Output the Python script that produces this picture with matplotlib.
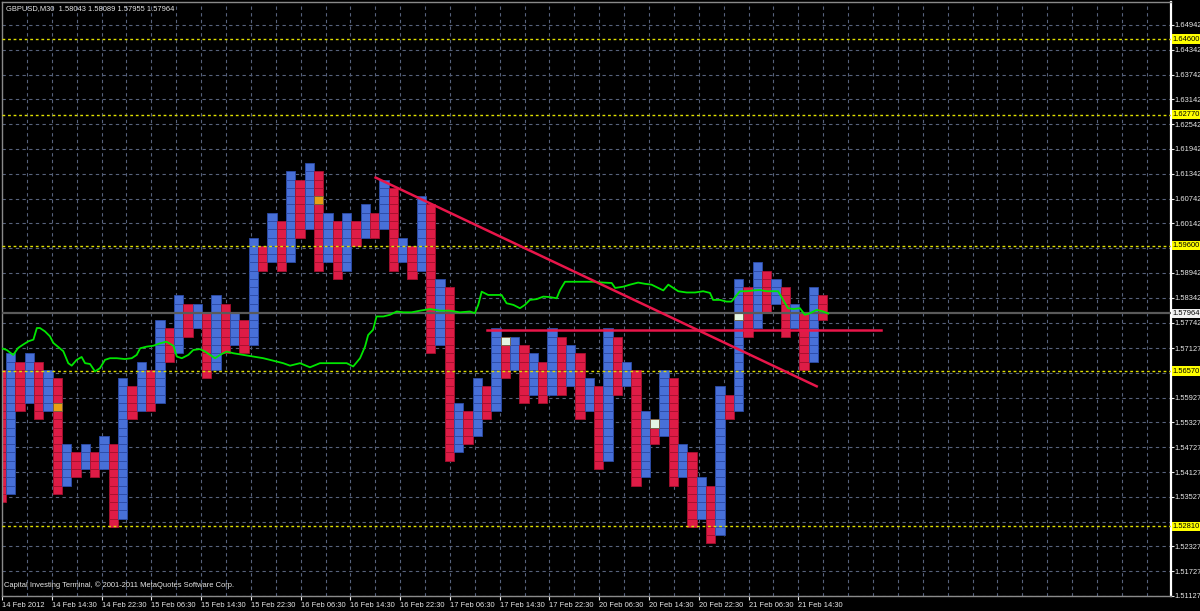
import matplotlib.pyplot as plt
import matplotlib.transforms as mtransforms

plt.rcParams['font.family'] = ['Liberation Sans', 'DejaVu Sans']

BOX = 0.0020  # box size of the columns

# point & figure columns (low / high), first one is red, then blue/red alternate
col_low = [1.5340, 1.5360, 1.5560, 1.5580, 1.5540, 1.5560, 1.5360, 1.5380, 1.5400, 1.5420,
           1.5400, 1.5420, 1.5280, 1.5300, 1.5540, 1.5560, 1.5560, 1.5580, 1.5680, 1.5700,
           1.5740, 1.5760, 1.5640, 1.5660, 1.5700, 1.5720, 1.5700, 1.5720, 1.5900, 1.5920,
           1.5900, 1.5920, 1.5980, 1.6000, 1.5900, 1.5920, 1.5880, 1.5900, 1.5960, 1.5980,
           1.5980, 1.6000, 1.5900, 1.5920, 1.5880, 1.5900, 1.5700, 1.5720, 1.5440, 1.5460,
           1.5480, 1.5500, 1.5540, 1.5560, 1.5640, 1.5660, 1.5580, 1.5600, 1.5580, 1.5600,
           1.5600, 1.5620, 1.5540, 1.5560, 1.5420, 1.5440, 1.5600, 1.5620, 1.5380, 1.5400,
           1.5480, 1.5500, 1.5380, 1.5400, 1.5280, 1.5300, 1.5240, 1.5260, 1.5540, 1.5560,
           1.5740, 1.5760, 1.5800, 1.5820, 1.5740, 1.5760, 1.5660, 1.5680, 1.5780]
col_high = [1.5660, 1.5700, 1.5680, 1.5700, 1.5680, 1.5660, 1.5640, 1.5480, 1.5460, 1.5480,
            1.5460, 1.5500, 1.5480, 1.5640, 1.5620, 1.5680, 1.5660, 1.5780, 1.5760, 1.5840,
            1.5820, 1.5820, 1.5800, 1.5840, 1.5820, 1.5800, 1.5780, 1.5980, 1.5960, 1.6040,
            1.6020, 1.6140, 1.6120, 1.6160, 1.6140, 1.6040, 1.6020, 1.6040, 1.6020, 1.6060,
            1.6040, 1.6120, 1.6100, 1.5980, 1.5960, 1.6080, 1.6060, 1.5880, 1.5860, 1.5580,
            1.5560, 1.5640, 1.5620, 1.5760, 1.5740, 1.5740, 1.5720, 1.5700, 1.5680, 1.5760,
            1.5740, 1.5720, 1.5700, 1.5640, 1.5620, 1.5760, 1.5740, 1.5680, 1.5660, 1.5560,
            1.5540, 1.5660, 1.5640, 1.5480, 1.5460, 1.5400, 1.5380, 1.5620, 1.5600, 1.5880,
            1.5860, 1.5920, 1.5900, 1.5880, 1.5860, 1.5820, 1.5800, 1.5860, 1.5840]

# highlighted boxes: (column number, box low, colour)
special = [(6, 1.5560, '#e8a214'), (34, 1.6060, '#e8a214'), (54, 1.5720, '#e4f6e4'),
           (70, 1.5520, '#e4f6e4'), (79, 1.5780, '#e4f6e4')]

# price line (M30 bar number, price)
line_bar = [-0.1, 1.5, 3.6, 5.2, 6.8, 8.5, 10.1, 11.2, 12.2, 13.8, 15.4, 16.5, 18.1, 19.7, 21.3,
            22.4, 24.0, 25.6, 26.7, 28.3, 29.9, 31.5, 33.1, 34.7, 36.9, 39.5, 41.7, 43.3, 44.4,
            46.5, 48.6, 50.8, 52.9, 55.1, 56.2, 57.8, 59.9, 61.5, 63.6, 65.3, 66.9, 68.5, 70.1,
            72.2, 74.4, 77.6, 80.8, 84.0, 87.2, 90.4, 92.6, 95.8, 99.0, 102.2, 104.4, 107.6,
            110.8, 112.9, 115.1, 116.7, 117.7, 119.3, 120.4, 122.6, 124.7, 126.9, 129.0, 131.7,
            134.4, 137.6, 140.8, 144.0, 147.2, 150.4, 152.0, 153.1, 154.2, 156.3, 159.0, 160.6,
            162.2, 164.4, 166.5, 168.1, 169.7, 171.9, 174.0, 176.1, 178.3, 179.4, 181.0, 183.6,
            186.9, 190.1, 193.3, 196.0, 197.1, 199.7, 201.9, 204.5, 206.7, 208.8, 211.0, 212.6,
            214.2, 215.8, 217.4, 220.1, 222.8, 225.4, 227.6, 228.6, 230.8, 232.9, 234.5, 236.2,
            237.2, 239.4, 241.5, 243.6, 245.8, 247.4, 249.5, 251.1, 252.7, 254.4, 256.5, 258.1,
            259.8, 261.9, 264.0, 265.6]
line_price = [1.5712, 1.5708, 1.5696, 1.5713, 1.5721, 1.5729, 1.5733, 1.5761, 1.5761, 1.5753,
              1.5741, 1.5725, 1.5715, 1.5705, 1.5676, 1.5670, 1.5684, 1.5691, 1.5676, 1.5674,
              1.5656, 1.5664, 1.5684, 1.5688, 1.5688, 1.5686, 1.5688, 1.5696, 1.5712, 1.5716,
              1.5718, 1.5724, 1.5728, 1.5718, 1.5692, 1.5688, 1.5696, 1.5708, 1.5710, 1.5704,
              1.5696, 1.5688, 1.5696, 1.5704, 1.5700, 1.5696, 1.5692, 1.5688, 1.5682, 1.5676,
              1.5670, 1.5676, 1.5666, 1.5676, 1.5676, 1.5676, 1.5676, 1.5668, 1.5688, 1.5716,
              1.5744, 1.5757, 1.5789, 1.5789, 1.5793, 1.5801, 1.5799, 1.5799, 1.5803, 1.5807,
              1.5803, 1.5803, 1.5799, 1.5801, 1.5797, 1.5817, 1.5849, 1.5841, 1.5841, 1.5841,
              1.5821, 1.5817, 1.5809, 1.5817, 1.5829, 1.5831, 1.5837, 1.5836, 1.5833, 1.5853,
              1.5873, 1.5873, 1.5873, 1.5873, 1.5871, 1.5870, 1.5858, 1.5861, 1.5866, 1.5871,
              1.5868, 1.5866, 1.5858, 1.5852, 1.5866, 1.5858, 1.5850, 1.5847, 1.5847, 1.5850,
              1.5846, 1.5829, 1.5829, 1.5825, 1.5825, 1.5841, 1.5850, 1.5850, 1.5852, 1.5853,
              1.5850, 1.5850, 1.5850, 1.5829, 1.5809, 1.5807, 1.5809, 1.5793, 1.5797, 1.5805,
              1.5801, 1.5796]

# trend lines drawn on the chart
trend_bar = [120.1, 261.9]
trend_price = [1.6125, 1.5620]
hline_bar = [155.9, 282.5]
hline_price = 1.5757

levels = [1.64600, 1.62770, 1.59600, 1.56570, 1.52810]
bid = 1.57964

# price grid; the ones under the yellow level labels carry no label of their own
y_grid = [1.64942, 1.64342, 1.63742, 1.63142, 1.62542, 1.61942, 1.61342, 1.60742, 1.60142,
          1.59542, 1.58942, 1.58342, 1.57742, 1.57127, 1.56527, 1.55927, 1.55327, 1.54727,
          1.54127, 1.53527, 1.52927, 1.52327, 1.51727, 1.51127]
y_hidden = [1.59542, 1.56527, 1.52927]
x_labels = ['14 Feb 2012', '14 Feb 14:30', '14 Feb 22:30', '15 Feb 06:30', '15 Feb 14:30',
            '15 Feb 22:30', '16 Feb 06:30', '16 Feb 14:30', '16 Feb 22:30', '17 Feb 06:30',
            '17 Feb 14:30', '17 Feb 22:30', '20 Feb 06:30', '20 Feb 14:30', '20 Feb 22:30',
            '21 Feb 06:30', '21 Feb 14:30']

BLUE, BLUE_E = '#4870d8', '#2c4ca8'
RED, RED_E = '#de1c46', '#a8102e'
GRID = '#57627c'
TXT = '#e8e8e8'
FS = 5.4

fig = plt.figure(figsize=(12, 6.11), dpi=100, facecolor='black')
ax = fig.add_axes([2 / 1200, 15 / 611, 1169 / 1200, 594 / 611], facecolor='black')

# grid
for v in y_grid:
    ax.axhline(v, color=GRID, lw=0.8, ls=(0, (3, 3)), zorder=0)
for b in range(8, 376, 8):
    ax.axvline(b, color=GRID, lw=0.8, ls=(0, (3, 3)), zorder=0)

# columns of boxes
col_w = 3
x_first = -1.71
for k, (lo, hi) in enumerate(zip(col_low, col_high)):
    n = int(round((hi - lo) / BOX))
    bottoms = [lo + j * BOX for j in range(n)]
    fc, ec = (RED, RED_E) if k % 2 == 0 else (BLUE, BLUE_E)
    ax.bar([x_first + k * col_w] * n, BOX, bottom=bottoms, width=col_w, align='edge',
           color=fc, edgecolor=ec, linewidth=0.6, zorder=2)
for k, lo, c in special:
    ax.bar(x_first + k * col_w, BOX, bottom=lo, width=col_w, align='edge',
           color=c, edgecolor='#706040', linewidth=0.6, zorder=3)

# levels and bid line
for lv in levels:
    ax.axhline(lv, color='#e0e000', lw=1.0, ls=(0, (2, 2)), zorder=4)
ax.axhline(bid, color='#5a5a5a', lw=1.6, zorder=4)

# price line
ax.plot(line_bar, line_price, color='#00e600', lw=1.3, zorder=5)

# trend lines
ax.plot(trend_bar, trend_price, color='#e8164a', lw=1.8, zorder=6)
ax.plot(hline_bar, [hline_price, hline_price], color='#e8164a', lw=1.8, zorder=6)

ax.set_xlim(0, 375.8)
ax.set_ylim(1.51135, 1.65498)

y_ticks = [v for v in y_grid if v not in y_hidden]
ax.yaxis.tick_right()
ax.set_yticks(y_ticks)
ax.set_yticklabels([f'{v:.5f}' for v in y_ticks])
ax.set_xticks(range(0, 16 * len(x_labels), 16))
ax.set_xticklabels(x_labels, ha='left')
ax.tick_params(axis='y', colors=TXT, labelsize=FS, length=2, pad=0.8)
ax.tick_params(axis='x', colors=TXT, labelsize=FS, length=3, pad=1)
for sp in ax.spines.values():
    sp.set_color('#8a8a8a')
    sp.set_linewidth(1)
ax.spines['right'].set_color('white')
ax.spines['right'].set_linewidth(1.6)

trans = mtransforms.blended_transform_factory(ax.transAxes, ax.transData)
for lv in levels:
    ax.text(1.0015, lv, f'{lv:.5f}', transform=trans, ha='left', va='center', fontsize=FS,
            color='black', clip_on=False, zorder=10,
            bbox=dict(boxstyle='square,pad=0.15', fc='#ffff00', ec='none'))
ax.text(1.0015, bid, f'{bid:.5f}', transform=trans, ha='left', va='center', fontsize=FS,
        color='black', clip_on=False, zorder=10,
        bbox=dict(boxstyle='square,pad=0.15', fc='#f0f0f0', ec='none'))

fig.text(0.005, 0.992, 'GBPUSD,M30  1.58043 1.58089 1.57955 1.57964', color=TXT,
         fontsize=FS, va='top', ha='left')
ax.text(0.002, 0.012, 'Capital Investing Terminal, \u00a9 2001-2011 MetaQuotes Software Corp.',
        transform=ax.transAxes, color=TXT, fontsize=FS, va='bottom', ha='left', zorder=10)

fig.savefig('out.png', dpi=100, facecolor='black')
